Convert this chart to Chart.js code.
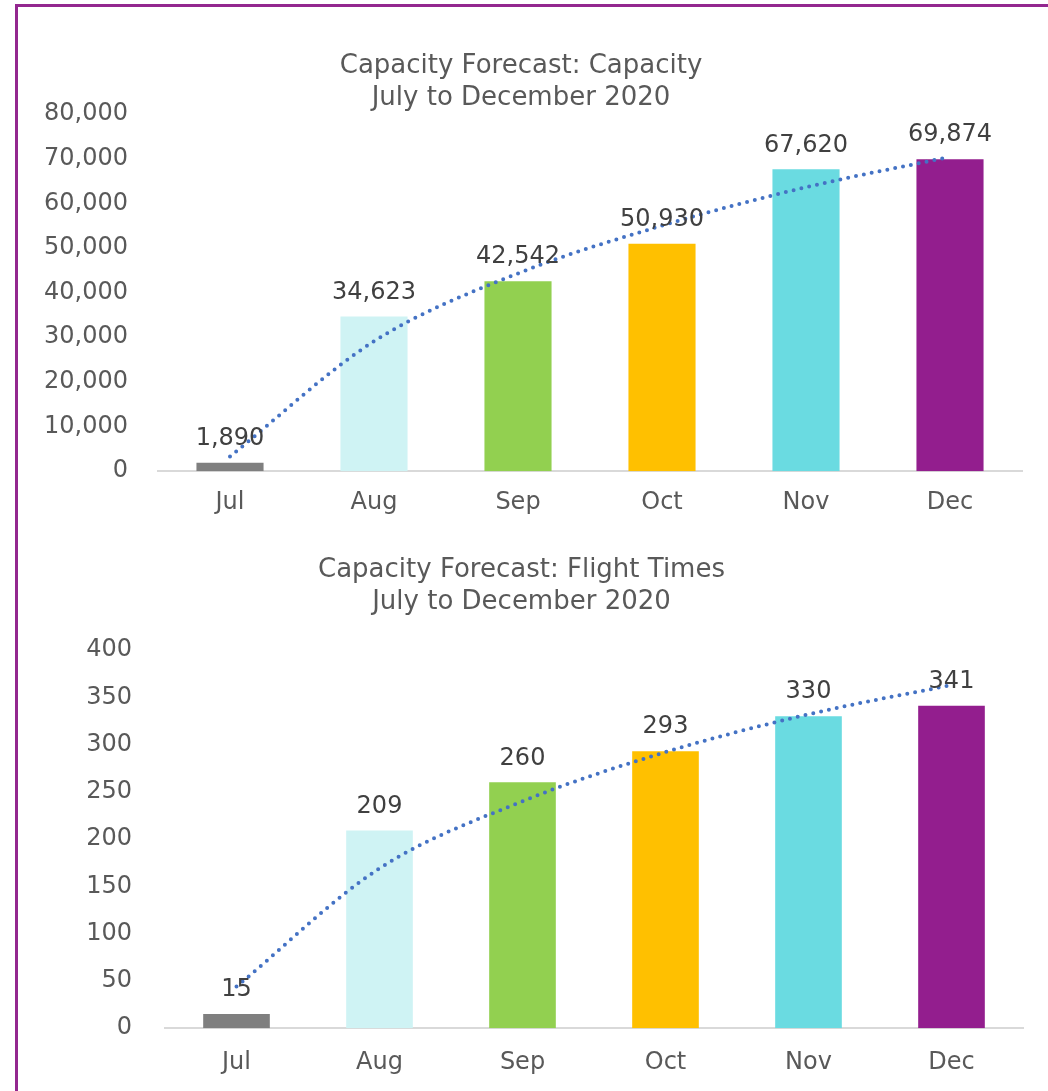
<!DOCTYPE html>
<html>
<head>
<meta charset="utf-8">
<script src="https://cdn.jsdelivr.net/npm/chart.js@4"></script>
<style>
  body { margin: 0; background: #fff; width: 1048px; height: 1091px; overflow: hidden; position: relative; }
  #frame { position: absolute; left: 15px; top: 4px; width: 1040px; height: 1100px;
           border-top: 3px solid #93278F; border-left: 3px solid #93278F; }
  .box { position: absolute; left: 20px; width: 1028px; }
  #box1 { top: 0; height: 534px; }
  #box2 { top: 530px; height: 567px; }
</style>
</head>
<body>
<div id="frame"></div>
<div class="box" id="box1"><canvas id="chart1"></canvas></div>
<div class="box" id="box2"><canvas id="chart2"></canvas></div>
<script>
const months = ['Jul', 'Aug', 'Sep', 'Oct', 'Nov', 'Dec'];
const barColors = ['#7F7F7F', '#CFF3F4', '#92D050', '#FFC000', '#6ADBE1', '#931E8E'];

const capacity = [1890, 34623, 42542, 50930, 67620, 69874];
const capacityTrend = [3300, 29100, 44300, 55000, 63600, 70400];
const capacityTicks = { max: 80000, step: 10000 };

const flightTimes = [15, 209, 260, 293, 330, 341];
const flightTrend = [44, 169, 240, 292, 332, 363];
const flightTicks = { max: 400, step: 50 };

const FONT = "'DejaVu Sans', sans-serif";
const GREY = '#595959';

// value labels above the bars
const barLabels = {
  id: 'barLabels',
  afterDatasetsDraw(chart) {
    const ctx = chart.ctx;
    const meta = chart.getDatasetMeta(1);
    ctx.save();
    ctx.font = '24px ' + FONT;
    ctx.fillStyle = '#404040';
    ctx.textAlign = 'center';
    ctx.textBaseline = 'middle';
    meta.data.forEach((bar, i) => {
      const v = chart.data.datasets[1].data[i];
      ctx.fillText(v.toLocaleString('en-US'), bar.x, bar.y - 24);
    });
    ctx.restore();
  }
};

function makeChart(id, title, values, trend, ticks, opts) {
  return new Chart(document.getElementById(id), {
    data: {
      labels: months,
      datasets: [
        {
          type: 'line',
          data: trend,
          borderColor: '#4472C4',
          borderWidth: 4,
          borderDash: [0, 8],
          borderCapStyle: 'round',
          pointRadius: 0,
          cubicInterpolationMode: 'monotone',
          fill: false,
          order: 0
        },
        {
          type: 'bar',
          data: values,
          backgroundColor: barColors,
          barPercentage: 0.466,
          categoryPercentage: 1,
          order: 1
        }
      ]
    },
    options: {
      responsive: true,
      maintainAspectRatio: false,
      animation: false,
      layout: { padding: { top: 0, right: opts.padRight, bottom: 0, left: 0 } },
      plugins: {
        legend: { display: false },
        tooltip: { enabled: false },
        title: {
          display: true,
          text: title,
          color: GREY,
          font: { family: FONT, size: 26, weight: 'normal', lineHeight: 32 / 26 },
          padding: { top: opts.titleTop, bottom: opts.titleBottom }
        }
      },
      scales: {
        x: {
          grid: { display: false, drawTicks: false },
          border: { display: true, color: '#D9D9D9', width: 2 },
          ticks: { color: GREY, font: { family: FONT, size: 24 }, padding: opts.xPad }
        },
        y: {
          min: 0,
          max: ticks.max,
          grid: { display: false, drawTicks: false },
          border: { display: false },
          ticks: {
            stepSize: ticks.step,
            color: GREY,
            font: { family: FONT, size: 24 },
            padding: opts.yPad,
            callback: (v) => v.toLocaleString('en-US')
          },
          afterFit: (scale) => { scale.width = opts.yWidth; }
        }
      }
    },
    plugins: [barLabels]
  });
}

makeChart('chart1', ['Capacity Forecast: Capacity', 'July to December 2020'],
  capacity, capacityTrend, capacityTicks,
  { padRight: 26, titleTop: 50, titleBottom: 0, xPad: 17, yPad: 30, yWidth: 138 });

makeChart('chart2', ['Capacity Forecast: Flight Times', 'July to December 2020'],
  flightTimes, flightTrend, flightTicks,
  { padRight: 25, titleTop: 24, titleBottom: 32, xPad: 20, yPad: 33, yWidth: 145 });
</script>
</body>
</html>
